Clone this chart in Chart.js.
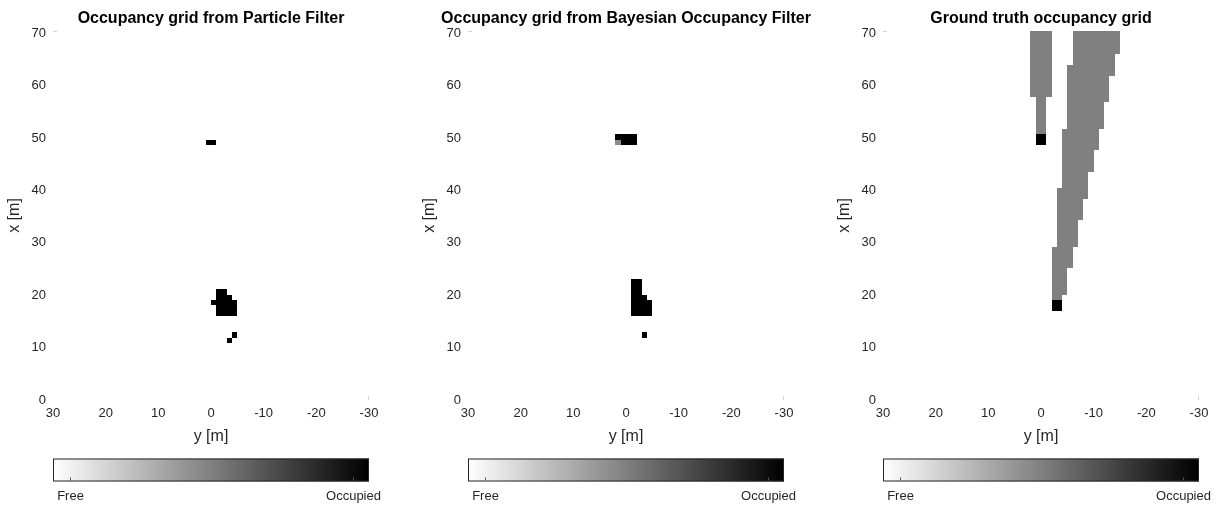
<!DOCTYPE html>
<html>
<head>
<meta charset="utf-8">
<script src="https://cdn.jsdelivr.net/npm/chart.js@4.4.1/dist/chart.umd.min.js"></script>
<style>
  html, body { margin: 0; padding: 0; background: #fff; }
  body { width: 1220px; height: 506px; overflow: hidden; position: relative; }
  .panel { position: absolute; top: 0; width: 420px; height: 506px; }
</style>
</head>
<body>
<div class="panel" style="left:1px"><canvas id="pf" width="420" height="506"></canvas></div>
<div class="panel" style="left:416px"><canvas id="bof" width="420" height="506"></canvas></div>
<div class="panel" style="left:831px"><canvas id="truth" width="420" height="506"></canvas></div>
<script>
// Axis ranges and ticks (metres). x is the forward distance, y the lateral offset.
const forwardTicks = [0, 10, 20, 30, 40, 50, 60, 70];
const lateralTicks = [30, 20, 10, 0, -10, -20, -30];
const forwardMax = 70.4;

// Panel titles
const panelTitles = [
  'Occupancy grid from Particle Filter',
  'Occupancy grid from Bayesian Occupancy Filter',
  'Ground truth occupancy grid'
];

// Occupied grid blocks: [xFrom, xTo, yFrom, yTo, occupancy probability]
const pfBlocks = [
  [48.64, 49.66,  1, -1, 1],
  [20.08, 21.10, -1, -3, 1],
  [19.06, 20.08, -1, -4, 1],
  [16.00, 19.06, -1, -5, 1],
  [18.04, 19.06,  0, -1, 1],
  [11.92, 12.94, -4, -5, 1],
  [10.90, 11.92, -3, -4, 1]
];

const bofBlocks = [
  [49.66, 50.68,  2, -2, 1],
  [48.64, 49.66,  1, -2, 1],
  [48.64, 49.66,  2,  1, 0.45],
  [16.00, 23.14, -1, -3, 1],
  [16.00, 20.08, -3, -4, 1],
  [16.00, 19.06, -4, -5, 1],
  [11.92, 12.94, -3, -4, 1]
];

const truthBlocks = [
  [57.82, 70.40,  2,  -2, 0.5],
  [50.68, 57.82,  1,  -1, 0.5],
  [48.64, 50.68,  1,  -1, 1],
  [65.98, 70.40, -6, -15, 0.5],
  [63.94, 65.98, -6, -14, 0.5],
  [61.90, 63.94, -5, -14, 0.5],
  [56.80, 61.90, -5, -13, 0.5],
  [51.70, 56.80, -5, -12, 0.5],
  [47.62, 51.70, -4, -11, 0.5],
  [43.54, 47.62, -4, -10, 0.5],
  [40.48, 43.54, -4,  -9, 0.5],
  [38.44, 40.48, -3,  -9, 0.5],
  [34.36, 38.44, -3,  -8, 0.5],
  [29.26, 34.36, -3,  -7, 0.5],
  [25.18, 29.26, -2,  -6, 0.5],
  [20.08, 25.18, -2,  -5, 0.5],
  [19.06, 20.08, -2,  -4, 0.5],
  [17.02, 19.06, -2,  -4, 1]
];

// Colour bar labels and where they sit on the 0..1 occupancy scale
const colorbarLabels = ['Free', 'Occupied'];
const colorbarTickValues = [0.055, 0.95];

const FONT = '"Liberation Sans", Arial, Helvetica, sans-serif';
const TEXT = '#262626';
Chart.defaults.font.family = FONT;

function grey(p) {
  const g = Math.round(255 * (1 - p));
  return `rgb(${g},${g},${g})`;
}

// Paints grid blocks in data space using the chart's scales
const occupancyGrid = {
  id: 'occupancyGrid',
  beforeDatasetsDraw(chart, args, opts) {
    const { ctx, chartArea: a, scales: { x, y } } = chart;
    ctx.save();
    ctx.beginPath();
    ctx.rect(a.left, a.top - 2, a.width, a.height + 2);
    ctx.clip();
    for (const [x0, x1, y0, y1, p] of opts.blocks) {
      const pa = Math.round(x.getPixelForValue(y0));
      const pb = Math.round(x.getPixelForValue(y1));
      const top = Math.round(y.getPixelForValue(x1));
      const bottom = Math.round(y.getPixelForValue(x0));
      ctx.fillStyle = grey(p);
      ctx.fillRect(Math.min(pa, pb), top, Math.abs(pb - pa), bottom - top);
    }
    ctx.restore();

    // faint inner tick stubs at the outermost ticks of each axis
    const yTop = Math.round(y.getPixelForValue(forwardTicks[forwardTicks.length - 1]) - 2) + 0.5;
    const xEnd = Math.round(x.getPixelForValue(lateralTicks[lateralTicks.length - 1])) - 0.5;
    ctx.save();
    ctx.strokeStyle = '#d4d4d4';
    ctx.lineWidth = 1;
    ctx.beginPath();
    ctx.moveTo(a.left, yTop);
    ctx.lineTo(a.left + 4, yTop);
    ctx.moveTo(xEnd, a.bottom);
    ctx.lineTo(xEnd, a.bottom - 4);
    ctx.stroke();
    ctx.restore();
  }
};

// Horizontal colour bar under the plot
const colorbar = {
  id: 'colorbar',
  afterDraw(chart) {
    const { ctx, chartArea: { left, right, bottom } } = chart;
    const top = bottom + 58.5, h = 23;
    const w = right - left;
    const grad = ctx.createLinearGradient(left, 0, right, 0);
    for (let i = 0; i <= 10; i++) grad.addColorStop(i / 10, grey(i / 10));
    ctx.save();
    ctx.fillStyle = grad;
    ctx.fillRect(left, top, w, h);
    ctx.strokeStyle = TEXT;
    ctx.lineWidth = 1;
    ctx.strokeRect(left + 0.5, top + 0.5, w - 1, h - 1);
    ctx.font = `13px ${FONT}`;
    ctx.textAlign = 'center';
    ctx.textBaseline = 'middle';
    colorbarTickValues.forEach((v, i) => {
      const px = Math.round(left + v * w) + 0.5;
      ctx.strokeStyle = '#555';
      ctx.beginPath();
      ctx.moveTo(px, top + h - 1);
      ctx.lineTo(px, top + h - 4);
      ctx.stroke();
      ctx.fillStyle = TEXT;
      ctx.fillText(colorbarLabels[i], px, top + h + 14.5);
    });
    ctx.restore();
  }
};

function buildOptions(title, blocks) {
  return {
    responsive: false,
    animation: false,
    devicePixelRatio: 1,
    events: [],
    layout: { padding: 0 },
    plugins: {
      legend: { display: false },
      tooltip: { enabled: false },
      title: {
        display: true,
        text: title,
        color: '#000',
        font: { family: FONT, size: 16, weight: 'bold', lineHeight: 1.2 },
        padding: { top: 8.8, bottom: 3 }
      },
      occupancyGrid: { blocks }
    },
    scales: {
      x: {
        type: 'linear',
        reverse: true,
        min: lateralTicks[lateralTicks.length - 1],
        max: lateralTicks[0],
        afterBuildTicks: s => { s.ticks = lateralTicks.map(v => ({ value: v })); },
        ticks: { color: TEXT, font: { size: 13 }, padding: 6, maxRotation: 0 },
        grid: { display: false, drawTicks: false },
        border: { display: false },
        title: {
          display: true, text: 'y [m]', color: TEXT,
          font: { size: 16, lineHeight: 1.2 },
          padding: { top: 0, bottom: 59.4 }
        },
        afterFit: s => { s.height = 106; }
      },
      y: {
        type: 'linear',
        min: 0,
        max: forwardMax,
        afterBuildTicks: s => { s.ticks = forwardTicks.map(v => ({ value: v })); },
        ticks: { color: TEXT, font: { size: 13 }, padding: 7 },
        grid: { display: false, drawTicks: false },
        border: { display: false },
        title: {
          display: true, text: 'x [m]', color: TEXT,
          font: { size: 16, lineHeight: 1.2 },
          padding: { top: 4, bottom: 0 }
        },
        afterFit: s => { s.width = 52; }
      },
      // empty mirror axis keeps the plot centred under its title
      yMirror: {
        type: 'linear',
        axis: 'y',
        position: 'right',
        display: true,
        ticks: { display: false },
        grid: { display: false, drawTicks: false },
        border: { display: false },
        afterFit: s => { s.width = 52; }
      }
    }
  };
}

const panels = [
  ['pf', pfBlocks],
  ['bof', bofBlocks],
  ['truth', truthBlocks]
];

panels.forEach(([id, blocks], i) => {
  new Chart(document.getElementById(id), {
    type: 'scatter',
    data: { datasets: [{ data: [], xAxisID: 'x', yAxisID: 'y' }] },
    options: buildOptions(panelTitles[i], blocks),
    plugins: [occupancyGrid, colorbar]
  });
});
</script>
</body>
</html>
